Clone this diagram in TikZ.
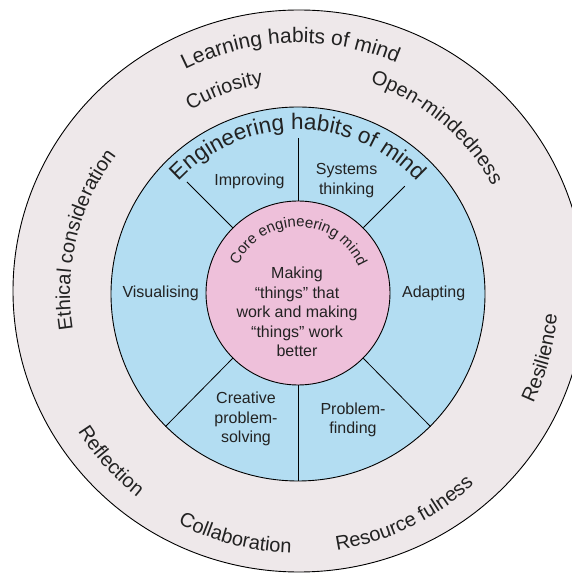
\documentclass[tikz,border=0pt]{standalone}
\usepackage{fontspec}
\setmainfont{Liberation Sans}
\usetikzlibrary{decorations.text,calc}
\definecolor{ringgray}{HTML}{EEE8EA}
\definecolor{engblue}{HTML}{B3DDF2}
\definecolor{corepink}{HTML}{EEC0DA}
\definecolor{ink}{HTML}{222222}
\begin{document}
\begin{tikzpicture}[x=1pt,y=1pt,
  curved/.style={decorate, decoration={text along path, text align=center, text={#1}}},
  lab/.style={text=ink, align=center, font=\fontsize{16}{19.5}\selectfont, inner sep=0pt},
  divider/.style={draw=black, line width=0.8pt}]
\useasboundingbox (0,0) rectangle (572,573);
\clip (0,0) rectangle (572,573);
\coordinate (C) at (298,280);
% rings
\draw[fill=ringgray, line width=0.9pt] (299,282) ellipse [x radius=286pt, y radius=281pt];
\node[circle, draw, fill=engblue, minimum size=374pt, inner sep=0pt, line width=0.9pt] (eng) at (298,279) {};
\node[circle, draw, fill=corepink, minimum size=184pt, inner sep=0pt, line width=0.9pt] (core) at (C) {};
% dividers
\coordinate (d90) at ($(C)+(90:155pt)$);
\coordinate (d135) at ($(C)+(135:157pt)$);
\coordinate (d45) at ($(C)+(45:151pt)$);
\draw[divider] (core.90) -- (d90);
\draw[divider] (core.135) -- (d135);
\draw[divider] (core.45) -- (d45);
\draw[divider] (core.270) -- (eng.270);
\draw[divider] (core.225) -- (eng.225);
\draw[divider] (core.-45) -- (eng.-45);
% outer ring curved texts (clockwise, tops outward)
\path[curved={|\fontsize{21}{25}\selectfont\color{ink}|Learning habits of mind}]
  ($(C)+(150:250pt)$) arc[start angle=150, end angle=33.6, radius=250pt];
\path[curved={|\fontsize{20}{24}\selectfont\color{ink}|Curiosity}]
  ($(C)+(140:212pt)$) arc[start angle=140, end angle=80, radius=212pt];
\path[curved={|\fontsize{20}{24}\selectfont\color{ink}|Open-mindedness}]
  ($(C)+(85:222pt)$) arc[start angle=85, end angle=15, radius=222pt];
\path[curved={|\fontsize{20}{24}\selectfont\color{ink}|Ethical consideration}]
  ($(C)+(200:228pt)$) arc[start angle=200, end angle=132, radius=228pt];
% outer ring curved texts (counter-clockwise, tops inward)
\path[curved={|\fontsize{20}{24}\selectfont\color{ink}|Resilience}]
  ($(C)+(-40:260pt)$) arc[start angle=-40, end angle=10, radius=260pt];
\path[curved={|\fontsize{20}{24}\selectfont\color{ink}|Resource fulness}]
  ($(C)+(-90:260pt)$) arc[start angle=-90, end angle=-38.8, radius=260pt];
\path[curved={|\fontsize{20}{24}\selectfont\color{ink}|Collaboration}]
  ($(C)+(-130:260pt)$) arc[start angle=-130, end angle=-79, radius=260pt];
\path[curved={|\fontsize{20}{24}\selectfont\color{ink}|Reflection}]
  ($(C)+(-160:260pt)$) arc[start angle=-160, end angle=-116, radius=260pt];
% engineering ring title
\path[curved={|\fontsize{22.5}{27}\selectfont\color{ink}|Engineering habits of mind}]
  ($(C)+(150:163pt)$) arc[start angle=150, end angle=30, radius=163pt];
% core title
\path[curved={|\fontsize{15}{18}\selectfont\color{ink}|Core engineering mind}]
  ($(C)+(170:66pt)$) arc[start angle=170, end angle=9, radius=66pt];
% segment labels
\node[lab] (improving) at (249.5,391.7) {Improving};
\node[lab] (systems) at (346.6,392.4) {Systems\\thinking};
\node[lab] (visual) at (160.6,280) {Visualising};
\node[lab] (adapt) at (433.7,280) {Adapting};
\node[lab] (creative) at (246,154) {Creative\\problem-\\solving};
\node[lab] (finding) at (353,153) {Problem-\\finding};
\node[lab] (making) at (297,261) {Making\\“things” that\\work and making\\“things” work\\better};
\end{tikzpicture}
\end{document}
